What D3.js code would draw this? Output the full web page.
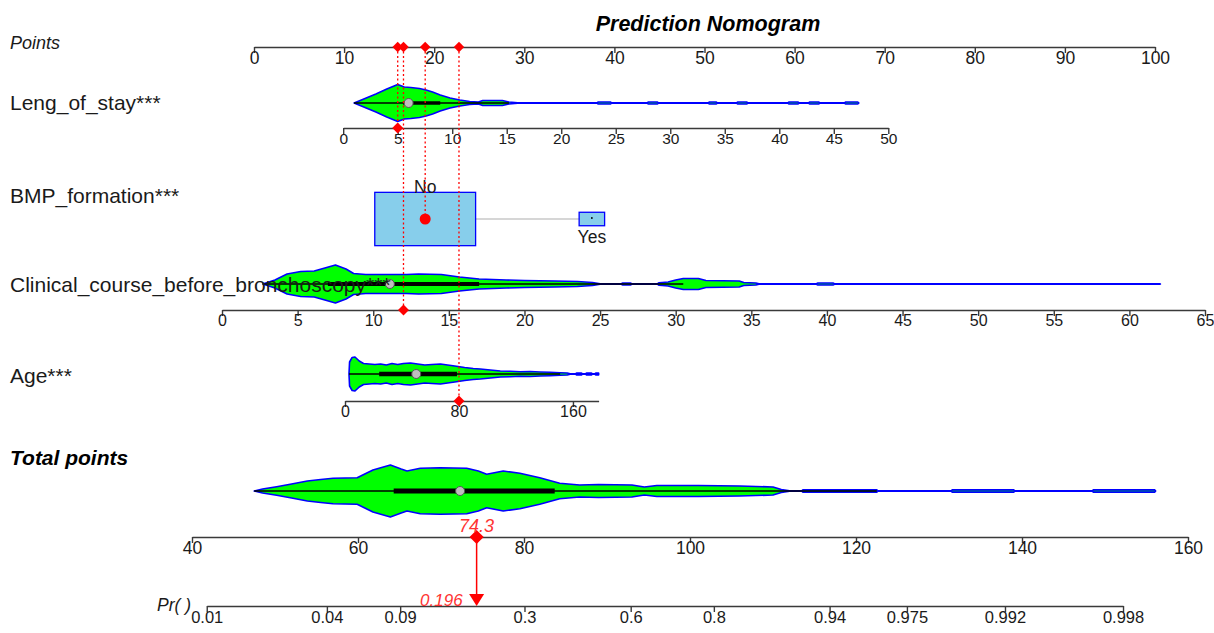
<!DOCTYPE html>
<html>
<head>
<meta charset="utf-8">
<script src="https://cdn.jsdelivr.net/npm/d3@7"></script>
<style>
body { margin: 0; background: #fff; }
svg text { font-family: "Liberation Sans", Arial, sans-serif; }
</style>
</head>
<body>
<svg id="chart" width="1214" height="633"></svg>
<script>
// ---- data ----
const pointsTicks = [0, 10, 20, 30, 40, 50, 60, 70, 80, 90, 100];

// Leng_of_stay: value -> points anchors, axis, violin (value, half density), box stats
const lengTicks = [0, 5, 10, 15, 20, 25, 30, 35, 40, 45, 50];
const lengAnchors = [0, 50];
const lengAnchorPts = [9.9, 70.4];
const lengValue = 5;
const lengViolin = [[1,0],[2,4.5],[3,9],[4,14],[5,18.5],[5.6,16],[6.2,15.5],[7,14.5],[7.6,13],[8.2,11],
  [8.9,8],[9.8,5],[10.7,3],[11.6,1.5],[12.4,1],[12.8,2.5],[14.6,2.5],[15.2,1],[16,0.3],[23.3,0.3],
  [23.4,1],[24.5,1],[24.6,0.3],[27.9,0.3],[28,1],[28.8,1],[28.9,0.3],[33.5,0.3],[33.6,1],
  [34.2,1],[34.3,0.3],[36.1,0.3],[36.2,1],[37,1],[37.1,0.3],[40.8,0.3],[40.9,1],[41.7,1],
  [41.8,0.3],[42.7,0.3],[42.8,1],[43.6,1],[43.7,0.3],[46,0.3],[46.1,1],[47.2,1],[47.3,0]];
const lengBox = [1, 5.5, 6, 8.9, 15.2]; // min whisker, q1, median, q3, max whisker

// BMP_formation: categorical
const bmpLevels = ["No", "Yes"];
const bmpPoints = [19.0, 37.5];
const bmpFreq = [0.94, 0.06];
const bmpValue = "No";

// Clinical_course_before_bronchoscopy
const clinTicks = [0, 5, 10, 15, 20, 25, 30, 35, 40, 45, 50, 55, 60, 65];
const clinAnchors = [0, 65];
const clinAnchorPts = [-3.55, 105.55];
const clinValue = 12;
const clinViolin = [[2.7,0],[3.5,4],[4.3,10],[5.2,12.5],[6.1,13],[6.8,16],[7.5,19],[8.2,15],[8.7,10.5],
  [9.5,9.5],[12.2,9.5],[13,10],[14.5,9.5],[15.7,7],[17,5],[18.8,4],[20,3.5],[22,3],[23.5,2.5],[24.5,1.5],
  [25,0.3],[26.4,0.3],[26.5,1],[27,1],[27.1,0.3],[28.8,0.3],[28.9,1.2],[29.5,2],[30,4],[30.5,5.5],
  [31.5,5.5],[32,3.5],[34.2,3],[34.5,1.5],[35.3,1],[35.5,0.3],[39.3,0.3],[39.4,1],[40.4,1],
  [40.5,0.3],[62,0.3],[62.05,0]];
const clinBox = [2.7, 7, 11.1, 17, 30.5];

// Age
const ageTicks = [0, 80, 160];
const ageAnchors = [0, 160];
const ageAnchorPts = [10.1, 35.4];
const ageExtent = [0, 178];
const ageValue = 80;
const ageViolin = [[2.8,0],[3.2,12],[5,16.5],[7,17],[10,13],[13,10.5],[17,10],[21,9.5],[25,10],[29,9],
  [33,10.5],[37,9.5],[41,10.5],[46,11],[51,10],[56,9],[61,9.5],[67,10],[72,9],[77,8],[84,6.5],[90,5.5],
  [95,5],[102,4],[109,3],[116,2.7],[123,2.3],[130,2.5],[137,2],[144,1.7],[151,1.3],[156,1],[158,0.3],
  [162,0.3],[162.5,0.9],[166,0.9],[166.5,0.3],[169,0.3],[169.5,0.9],[173,0.9],[173.5,0.3],[175.5,0.3],[176,0.9],
  [178,0.9],[178.1,0]];
const ageBox = [2.8, 24, 50, 78.6, 151];

// Total points and probability
const totalTicks = [40, 60, 80, 100, 120, 140, 160];
const totalViolin = [[47.5,0],[48.5,2],[50.2,4.3],[52,7],[53.9,10],[55.5,11.5],[57,12.7],[59.9,13.3],
  [61.8,21],[63.9,26],[65.2,22],[65.9,20],[67.5,22.7],[69.9,23.3],[73.1,22.7],[74.5,20],[75.5,16.7],
  [77.5,20],[79.5,17.7],[81.9,13.3],[84.3,7.7],[86.7,6],[89,6.5],[93,6],[94.5,4],[96,5.5],[101,5.5],
  [106,5],[110,4],[111,1.5],[112,0.3],[113.5,0.3],[113.6,1.1],[122.5,1.1],[122.6,0.3],[131.5,0.3],
  [131.6,1.1],[139,1.1],[139.1,0.3],[148.5,0.3],[148.6,1.1],[156,1.1],[156.1,0]];
const totalBox = [47.5, 64.3, 72.3, 83.7, 122.5];
const lpCoef = [-8.685, 0.0979]; // intercept, slope per total point
const prTicks = [0.01, 0.04, 0.09, 0.3, 0.6, 0.8, 0.94, 0.975, 0.992, 0.998];

// ---- drawing ----
const svg = d3.select("#chart");
const FONT = '"Liberation Sans", Arial, sans-serif';
const RED = "#ff0000";

const pointsX = d3.scaleLinear().domain([0, 100]).range([254, 1155]);
const totalX = d3.scaleLinear().domain([40, 160]).range([192, 1188]);

function varScale(anchors, pts, extent) {
  const toPts = d3.scaleLinear().domain(anchors).range(pts);
  const s = d3.scaleLinear().domain(extent).range(extent.map(v => pointsX(toPts(v))));
  s.points = toPts;
  return s;
}

const lengX = varScale(lengAnchors, lengAnchorPts, [0, 50]);
const clinX = varScale(clinAnchors, clinAnchorPts, [0, 65]);
const ageX = varScale(ageAnchors, ageAnchorPts, ageExtent);

const logit = p => Math.log(p / (1 - p));
const prX = d3.scaleLinear()
  .domain([logit(0.01), logit(0.998)])
  .range([logit(0.01), logit(0.998)].map(l => totalX((l - lpCoef[0]) / lpCoef[1])));

function drawAxis(scale, y, ticks, fs, fmt) {
  const ax = d3.axisBottom(scale).tickValues(ticks).tickSize(6).tickSizeOuter(0).tickPadding(-1);
  if (fmt) ax.tickFormat(fmt);
  const g = svg.append("g").attr("transform", `translate(0,${y})`).call(ax);
  g.attr("font-family", FONT).attr("font-size", fs);
  g.select(".domain").attr("stroke", "#3a3a3a").attr("stroke-width", 1.4);
  g.selectAll(".tick line").attr("stroke", "#3a3a3a").attr("stroke-width", 1.4);
  g.selectAll(".tick text").attr("fill", "#1a1a1a");
  return g;
}

function drawViolin(scale, data, box, cy, half, thick) {
  const w = d3.scaleLinear().domain([0, d3.max(data, d => d[1])]).range([0, half]);
  const area = d3.area()
    .x(d => scale(d[0]))
    .y0(d => cy - w(d[1]))
    .y1(d => cy + w(d[1]));
  svg.append("path").datum(data).attr("d", area)
    .attr("fill", "#00ff00").attr("stroke", "#0000ff").attr("stroke-width", 1.6)
    .attr("stroke-linejoin", "round");
  svg.append("line")
    .attr("x1", scale(box[0])).attr("x2", scale(box[4])).attr("y1", cy).attr("y2", cy)
    .attr("stroke", "#000").attr("stroke-width", 1.5);
  svg.append("line")
    .attr("x1", scale(box[1])).attr("x2", scale(box[3])).attr("y1", cy).attr("y2", cy)
    .attr("stroke", "#000").attr("stroke-width", thick);
  svg.append("circle").attr("cx", scale(box[2])).attr("cy", cy).attr("r", 4.5)
    .attr("fill", "#bebebe").attr("stroke", "#555").attr("stroke-width", 1);
}

// points axis
drawAxis(pointsX, 47, pointsTicks, 17.5);

// Leng_of_stay
drawViolin(lengX, lengViolin, lengBox, 103, 18.5, 3.5);
drawAxis(lengX, 128, lengTicks, 15.5);

// BMP_formation
const bmpY = 219;
const bmpXs = bmpPoints.map(p => pointsX(p));
svg.append("line").attr("x1", bmpXs[0]).attr("x2", bmpXs[1]).attr("y1", bmpY).attr("y2", bmpY)
  .attr("stroke", "#c8c8c8").attr("stroke-width", 1.3);
bmpLevels.forEach((lv, i) => {
  const bw = 104 * Math.sqrt(bmpFreq[i]), bh = 55 * Math.sqrt(bmpFreq[i]);
  svg.append("rect").attr("x", bmpXs[i] - bw / 2).attr("y", bmpY - bh / 2)
    .attr("width", bw).attr("height", bh)
    .attr("fill", "#87ceeb").attr("stroke", "#0000ff").attr("stroke-width", 1.3);
  svg.append("text").attr("x", bmpXs[i])
    .attr("y", i === 0 ? bmpY - bh / 2 + 1 : bmpY + bh / 2 + 17)
    .attr("text-anchor", "middle").attr("font-size", 17.5).attr("fill", "#1a1a1a").text(lv);
});
svg.append("circle").attr("cx", bmpXs[1]).attr("cy", bmpY - 1).attr("r", 0.9).attr("fill", "#000");

// Clinical course
drawViolin(clinX, clinViolin, clinBox, 284, 19, 4);
drawAxis(clinX, 310, clinTicks, 16);

// Age
drawViolin(ageX, ageViolin, ageBox, 374, 17, 4.5);
drawAxis(ageX, 401, ageTicks, 16);

// Total points
drawViolin(totalX, totalViolin, totalBox, 491, 26, 5);
drawAxis(totalX, 537, totalTicks, 17.5);

// Probability axis
drawAxis(prX, 606, prTicks.map(logit), 16.5, (d, i) => String(prTicks[i]));

// ---- selected observation ----
const sel = [
  { pts: lengX.points(lengValue), y: 128, kind: "diamond" },
  { pts: clinX.points(clinValue), y: 310, kind: "diamond" },
  { pts: bmpPoints[bmpLevels.indexOf(bmpValue)], y: bmpY, kind: "circle" },
  { pts: ageX.points(ageValue), y: 401, kind: "diamond" }
];
const total = d3.sum(sel, d => d.pts);
const prob = 1 / (1 + Math.exp(-(lpCoef[0] + lpCoef[1] * total)));

sel.forEach(d => {
  const x = pointsX(d.pts);
  svg.append("line").attr("x1", x).attr("x2", x).attr("y1", 47).attr("y2", d.y)
    .attr("stroke", RED).attr("stroke-width", 1.3).attr("stroke-dasharray", "2,2.5");
  svg.append("path").attr("d", d3.symbol(d3.symbolSquare, 55)())
    .attr("transform", `translate(${x},47) rotate(45)`).attr("fill", RED);
  if (d.kind === "circle") {
    svg.append("circle").attr("cx", x).attr("cy", d.y).attr("r", 5.5).attr("fill", RED);
  } else {
    svg.append("path").attr("d", d3.symbol(d3.symbolSquare, 60)())
      .attr("transform", `translate(${x},${d.y}) rotate(45)`).attr("fill", RED);
  }
});

const tx = totalX(total);
svg.append("line").attr("x1", tx).attr("x2", tx).attr("y1", 537).attr("y2", 596)
  .attr("stroke", RED).attr("stroke-width", 1.5);
svg.append("path").attr("d", d3.symbol(d3.symbolSquare, 100)())
  .attr("transform", `translate(${tx},537) rotate(45)`).attr("fill", RED);
svg.append("path")
  .attr("d", d3.line()([[tx - 7.5, 594], [tx + 7.5, 594], [tx, 606]]) + "Z")
  .attr("fill", RED);
svg.append("text").attr("x", tx).attr("y", 532).attr("text-anchor", "middle")
  .attr("font-size", 18).attr("font-style", "italic").attr("fill", "#ff3333").text(total.toFixed(1));
svg.append("text").attr("x", tx - 14).attr("y", 606).attr("text-anchor", "end")
  .attr("font-size", 17).attr("font-style", "italic").attr("fill", "#ff3333").text(prob.toFixed(3));

// ---- labels ----
svg.append("text").attr("x", 708).attr("y", 31).attr("text-anchor", "middle")
  .attr("font-size", 21.5).attr("font-weight", "bold").attr("font-style", "italic")
  .attr("fill", "#000").text("Prediction Nomogram");
svg.append("text").attr("x", 10).attr("y", 49).attr("font-size", 18).attr("font-style", "italic")
  .attr("fill", "#1a1a1a").text("Points");
const rowLabels = [
  ["Leng_of_stay***", 110],
  ["BMP_formation***", 203],
  ["Clinical_course_before_bronchoscopy***", 292],
  ["Age***", 383]
];
rowLabels.forEach(([t, y]) => {
  svg.append("text").attr("x", 10).attr("y", y).attr("font-size", 21).attr("fill", "#1a1a1a").text(t);
});
svg.append("text").attr("x", 10).attr("y", 465).attr("font-size", 21).attr("font-weight", "bold")
  .attr("font-style", "italic").attr("fill", "#000").text("Total points");
svg.append("text").attr("x", 157).attr("y", 611).attr("font-size", 17.5).attr("font-style", "italic")
  .attr("fill", "#1a1a1a").text("Pr( )");
</script>
</body>
</html>
